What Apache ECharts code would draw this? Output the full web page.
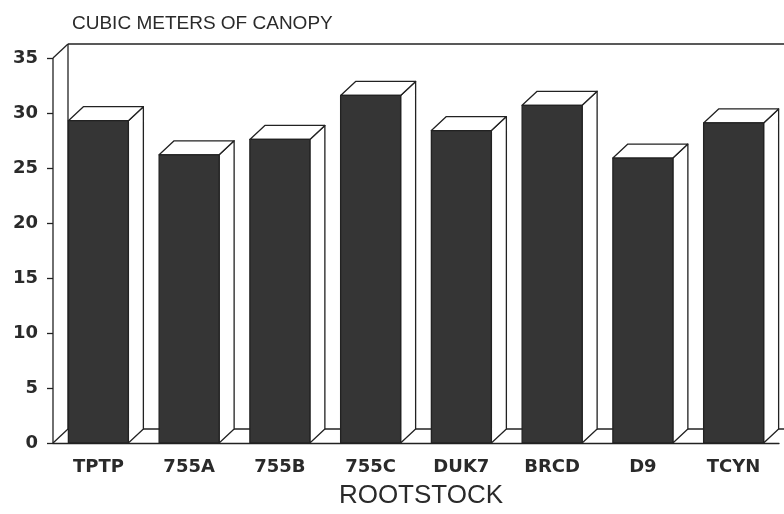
<!DOCTYPE html>
<html>
<head>
<meta charset="utf-8">
<script src="https://cdn.jsdelivr.net/npm/echarts@6/dist/echarts.min.js"></script>
<style>
  html, body { margin: 0; padding: 0; background: #fff; }
  #chart { width: 784px; height: 514px; }
</style>
</head>
<body>
<div id="chart"></div>
<script>
const categories = ["TPTP", "755A", "755B", "755C", "DUK7", "BRCD", "D9", "TCYN"];
const canopy = [29.3, 26.2, 27.6, 31.6, 28.4, 30.7, 25.9, 29.1];
const yTicks = [0, 5, 10, 15, 20, 25, 30, 35];

// 3d depth offset in pixels
const DX = 15;
const DY = -14;
const BAR_W = 60;
const INK = "#222";
const FACE = "#353535";

const chart = echarts.init(document.getElementById("chart"));

function renderWalls(params, api) {
  const cs = params.coordSys;
  const x0 = cs.x, y0 = cs.y, x1 = cs.x + cs.width + 20, y1 = cs.y + cs.height;
  const line = (a, b, c, d) => ({
    type: "line",
    shape: { x1: a, y1: b, x2: c, y2: d },
    style: { stroke: INK, lineWidth: 1.3 },
  });
  return {
    type: "group",
    children: [
      line(x0, y0, x0 + DX, y0 + DY),
      line(x0 + DX, y0 + DY, x1, y0 + DY),
      line(x0 + DX, y0 + DY, x0 + DX, y1 + DY),
      line(x0 + DX, y1 + DY, x1, y1 + DY),
      line(x0, y1, x0 + DX, y1 + DY),
      line(x0, y0, x0, y1),
    ],
  };
}

function renderBar(params, api) {
  const top = api.coord([api.value(0), api.value(1)]);
  const base = api.coord([api.value(0), 0]);
  const x = top[0] - BAR_W / 2;
  const w = BAR_W;
  const t = top[1], b = base[1];
  const st = { stroke: INK, lineWidth: 1.3, lineJoin: "round" };
  return {
    type: "group",
    children: [
      {
        type: "polygon",
        shape: { points: [[x + w, t], [x + w + DX, t + DY], [x + w + DX, b + DY], [x + w, b]] },
        style: Object.assign({ fill: "#fff" }, st),
      },
      {
        type: "polygon",
        shape: { points: [[x, t], [x + DX, t + DY], [x + w + DX, t + DY], [x + w, t]] },
        style: Object.assign({ fill: "#fff" }, st),
      },
      {
        type: "rect",
        shape: { x: x, y: t, width: w, height: b - t },
        style: Object.assign({ fill: FACE }, st),
      },
    ],
  };
}

const option = {
  animation: false,
  backgroundColor: "#fff",
  title: {
    text: "CUBIC METERS OF CANOPY",
    left: 67,
    top: 9,
    textStyle: {
      fontFamily: "Liberation Sans",
      fontWeight: "normal",
      fontSize: 19,
      color: "#2a2a2a",
    },
  },
  grid: { left: 53, right: 5, top: 58, bottom: 69 },
  xAxis: {
    type: "category",
    data: categories,
    name: "ROOTSTOCK",
    nameLocation: "middle",
    nameGap: 40,
    nameTextStyle: {
      fontFamily: "Liberation Sans",
      fontSize: 26,
      color: "#2a2a2a",
      padding: [0, 0, 0, 10],
    },
    axisLine: { lineStyle: { color: INK, width: 1.3 } },
    axisTick: { show: false },
    axisLabel: {
      margin: 15,
      fontFamily: "DejaVu Sans",
      fontWeight: "bold",
      fontSize: 18,
      color: "#2a2a2a",
    },
  },
  yAxis: {
    type: "value",
    min: 0,
    max: 35,
    interval: 5,
    axisLine: { show: false },
    axisTick: { show: true, length: 6, lineStyle: { color: INK, width: 1.3 } },
    splitLine: { show: false },
    axisLabel: {
      margin: 15,
      fontFamily: "DejaVu Sans",
      fontWeight: "bold",
      fontSize: 18,
      color: "#2a2a2a",
      formatter: (v) => (yTicks.includes(v) ? String(v) : ""),
    },
  },
  series: [
    {
      type: "custom",
      renderItem: renderWalls,
      data: [[0, 0]],
      z: 1,
      silent: true,
    },
    {
      type: "custom",
      renderItem: renderBar,
      data: canopy.map((v, i) => [i, v]),
      encode: { x: 0, y: 1 },
      z: 3,
      clip: false,
    },
  ],
};

chart.setOption(option);
</script>
</body>
</html>
